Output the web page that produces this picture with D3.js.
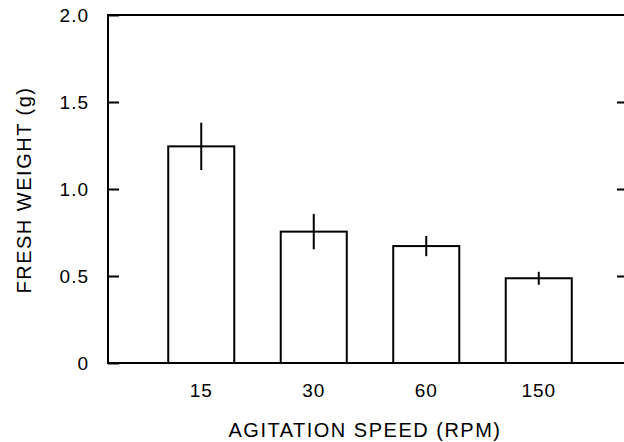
<!DOCTYPE html>
<html>
<head>
<meta charset="utf-8">
<script src="https://cdn.jsdelivr.net/npm/d3@7"></script>
<style>
  body { margin: 0; background: #fff; }
  text { font-family: "Liberation Sans", Arial, sans-serif; fill: #000; }
</style>
</head>
<body>
<script>
// data
var speeds = ["15", "30", "60", "150"];
var weights = [1.245, 0.755, 0.672, 0.487];
var errors = [0.136, 0.102, 0.058, 0.037];
var yTicks = [0, 0.5, 1.0, 1.5, 2.0];

var W = 624, H = 442;
var plotL = 108, plotR = 628, plotT = 15, plotB = 363;

var svg = d3.select("body").append("svg").attr("width", W).attr("height", H);

var x = d3.scaleBand().domain(speeds).range([145, 595]).paddingInner(0.413).paddingOuter(0.2065);
var y = d3.scaleLinear().domain([0, 2]).range([plotB, plotT]);

// frame
svg.append("rect")
    .attr("x", plotL).attr("y", plotT)
    .attr("width", plotR - plotL).attr("height", plotB - plotT)
    .attr("fill", "none").attr("stroke", "#000").attr("stroke-width", 2);

// left axis, ticks pointing in
var ya = svg.append("g").attr("transform", "translate(" + plotL + ",0)")
    .call(d3.axisLeft(y).tickValues(yTicks).tickSize(-11).tickPadding(19)
        .tickFormat(function (d) { return d == 0 ? "0" : d3.format(".1f")(d); }));
ya.select(".domain").remove();
ya.selectAll("line").attr("stroke", "#000").attr("stroke-width", 2);
ya.selectAll("text").attr("font-size", 19).style("letter-spacing", "1px")
    .attr("font-family", "Liberation Sans, Arial, sans-serif");

// right side ticks
var yr = svg.append("g").attr("transform", "translate(" + plotR + ",0)")
    .call(d3.axisRight(y).tickValues([0.5, 1.0, 1.5]).tickSize(-11).tickFormat(""));
yr.select(".domain").remove();
yr.selectAll("line").attr("stroke", "#000").attr("stroke-width", 2);

// x labels
var xa = svg.append("g").attr("transform", "translate(0," + plotB + ")")
    .call(d3.axisBottom(x).tickSize(0).tickPadding(21));
xa.select(".domain").remove();
xa.selectAll("text").attr("font-size", 19).style("letter-spacing", "1px")
    .attr("font-family", "Liberation Sans, Arial, sans-serif");

// bars
svg.selectAll(".bar").data(speeds).enter().append("rect")
    .attr("class", "bar")
    .attr("x", function (d) { return x(d); })
    .attr("y", function (d, i) { return y(weights[i]); })
    .attr("width", x.bandwidth())
    .attr("height", function (d, i) { return y(0) - y(weights[i]); })
    .attr("fill", "#fff").attr("stroke", "#000").attr("stroke-width", 2);

// error bars
svg.selectAll(".err").data(speeds).enter().append("line")
    .attr("class", "err")
    .attr("x1", function (d) { return x(d) + x.bandwidth() / 2; })
    .attr("x2", function (d) { return x(d) + x.bandwidth() / 2; })
    .attr("y1", function (d, i) { return y(weights[i] + errors[i]); })
    .attr("y2", function (d, i) { return y(weights[i] - errors[i]); })
    .attr("stroke", "#000").attr("stroke-width", 2);

// axis titles
svg.append("text")
    .attr("x", 365).attr("y", 437)
    .attr("text-anchor", "middle")
    .attr("font-size", 20).style("letter-spacing", "1.5px")
    .text("AGITATION SPEED (RPM)");

svg.append("text")
    .attr("transform", "translate(31,190) rotate(-90)")
    .attr("text-anchor", "middle")
    .attr("font-size", 20).style("letter-spacing", "1.5px")
    .text("FRESH WEIGHT (g)");
</script>
</body>
</html>
